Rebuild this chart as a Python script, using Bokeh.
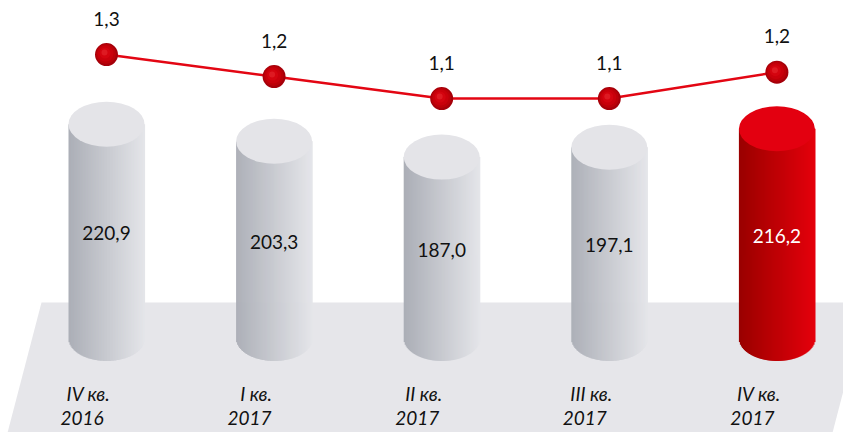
import numpy as np
from bokeh.plotting import figure
from bokeh.models import Range1d, ColumnDataSource
from bokeh.core.properties import value
from bokeh.embed import file_html
from bokeh.resources import INLINE

# ---- data ----
quarters = ["IV кв.", "I кв.", "II кв.", "III кв.", "IV кв."]
years = ["2016", "2017", "2017", "2017", "2017"]
volumes = [220.9, 203.3, 187.0, 197.1, 216.2]
ratios = [1.30, 1.20, 1.10, 1.10, 1.22]
highlight = [False, False, False, False, True]

vol_labels = [f"{v:.1f}".replace(".", ",") for v in volumes]
ratio_labels = [f"{r:.1f}".replace(".", ",") for r in ratios]

# ---- layout ----
W, H = 843, 432
PXX = 167.6   # px per category step
PXY = 0.97    # px per volume unit
PXR = 220.0   # px per ratio unit
x0 = -106 / PXX
x1 = x0 + W / PXX
y0 = -94 / PXY
y1 = y0 + H / PXY
r0 = -0.418
r1 = r0 + H / PXR

p = figure(width=W, height=H, x_range=Range1d(x0, x1), y_range=Range1d(y0, y1),
           output_backend="svg", toolbar_location=None, min_border=0)
p.extra_y_ranges = {"r": Range1d(r0, r1)}
p.axis.visible = False
p.grid.visible = False
p.outline_line_color = None
p.background_fill_color = "white"
p.border_fill_color = "white"

def dx(px):
    return x0 + px / PXX

def dy(py):
    return y1 - py / PXY

# floor (decorative parallelogram)
p.patch([dx(41), dx(866), dx(830), dx(5)], [dy(302), dy(302), dy(440), dy(440)],
        fill_color="#e6e6ea", line_color=None)

xs = np.arange(len(volumes))

# cylinder bodies as thin vertical strips (horizontal gradient)
HALF = 38.0
DEPTH = 22.5
NSTRIP = 76
grey_l = np.array([172, 175, 183])
grey_r = np.array([228, 229, 233])
red_l = np.array([155, 0, 0])
red_r = np.array([228, 0, 12])

L, R, T, B, C = [], [], [], [], []
for i, v in enumerate(volumes):
    cl, cr = (red_l, red_r) if highlight[i] else (grey_l, grey_r)
    for k in range(NSTRIP):
        a = -HALF + 2 * HALF * k / NSTRIP
        b = a + 2 * HALF / NSTRIP
        c = (a + b) / 2
        depth = DEPTH * np.sqrt(max(0.0, 1 - (c / HALF) ** 2))
        t = k / (NSTRIP - 1)
        col = (cl + (cr - cl) * t).astype(int)
        L.append(xs[i] + a / PXX)
        R.append(xs[i] + (b + 0.6) / PXX)
        T.append(v)
        B.append(-depth / PXY)
        C.append("#%02x%02x%02x" % tuple(col))
p.quad(left="left", right="right", top="top", bottom="bottom", fill_color="color",
       line_color=None, source=ColumnDataSource(dict(left=L, right=R, top=T, bottom=B, color=C)))

# cylinder tops
tops = ["#e30010" if h else "#e4e4e8" for h in highlight]
p.ellipse(x=xs, y=volumes, width=2 * HALF, height=2 * DEPTH, width_units="screen",
          height_units="screen", fill_color=tops, line_color=None)

# value labels in cylinders
vcol = ["white" if h else "#111111" for h in highlight]
p.text(x=xs, y=[v / 2 for v in volumes], text=vol_labels, text_color=vcol,
       text_font=value("Lato"), text_font_size="19px", text_align="center",
       text_baseline="middle", y_offset=2)

# category labels
p.text(x=xs, y=[0] * len(xs), text=quarters, text_color="#111111",
       text_font=value("Lato"), text_font_size="19px", text_font_style="italic",
       text_align="center", text_baseline="middle", x_offset=-18, y_offset=54.5)
p.text(x=xs, y=[0] * len(xs), text=years, text_color="#111111",
       text_font=value("Lato"), text_font_size="19px", text_font_style="italic",
       text_align="center", text_baseline="middle", x_offset=-24.5, y_offset=79.5)

# ratio line with spheres
p.line(x=xs, y=ratios, y_range_name="r", line_color="#e30613", line_width=2.5)
layers = [(23, "#a5000a", 0, 0), (20, "#bb0008", -0.5, 0.5), (16, "#c9000b", -1.0, 1.0),
          (11, "#d4040f", -1.5, 1.5), (6, "#de1a22", -2.0, 2.0)]
for size, col, ox, oy in layers:
    p.scatter(x=xs + ox / PXX, y=np.array(ratios) + oy / PXR, y_range_name="r",
              size=size, fill_color=col, line_color=None)

p.text(x=xs, y=ratios, y_range_name="r", text=ratio_labels, text_color="#111111",
       text_font=value("Lato"), text_font_size="19px", text_align="center",
       text_baseline="middle", y_offset=-36)

open("out.html", "w").write(file_html(p, INLINE))
